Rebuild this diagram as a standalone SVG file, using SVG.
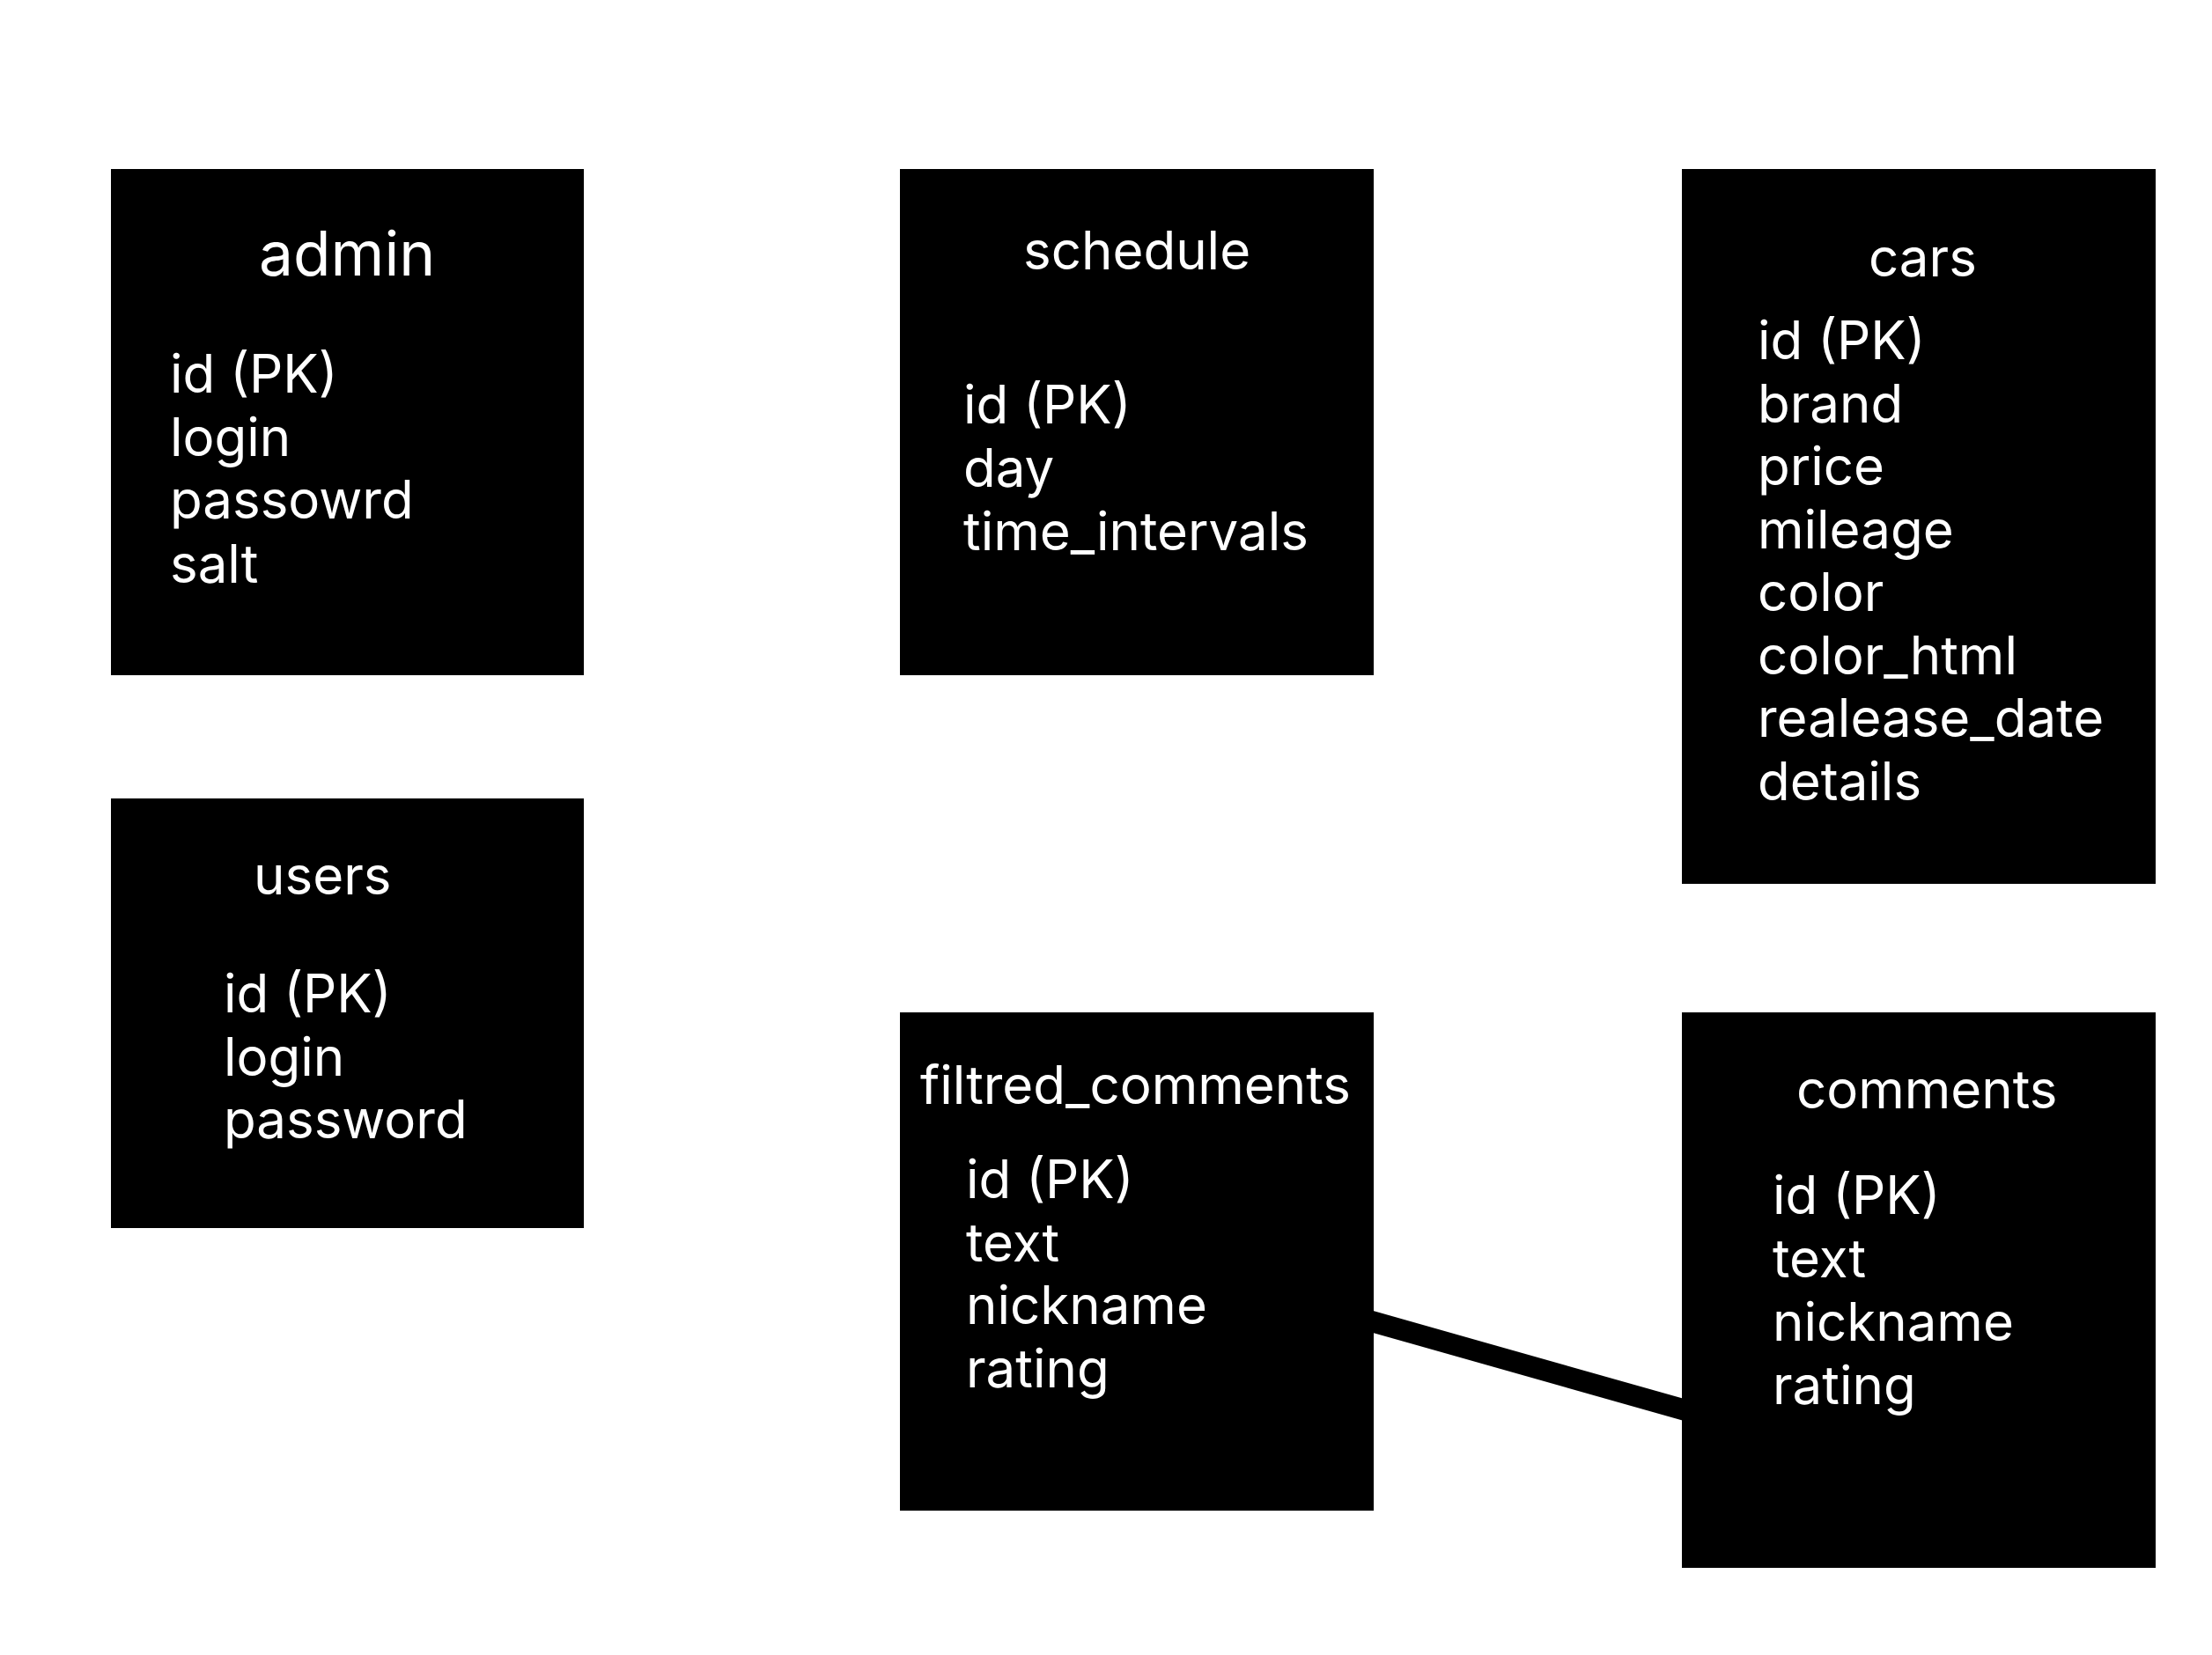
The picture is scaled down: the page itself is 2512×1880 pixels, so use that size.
<svg xmlns="http://www.w3.org/2000/svg" width="2512" height="1880" viewBox="0 0 2512 1880">
<style>
.box{fill:#000}
.t{fill:#fff;font-family:Inter,"Noto Sans","Liberation Sans",sans-serif;font-size:60px}
.big{font-size:69.5px}
.conn{stroke:#000;stroke-width:24;fill:none;stroke-linecap:butt}
</style>
<rect width="2512" height="1880" fill="#fff"/>
<g id="connectors">
<line class="conn" x1="1550" y1="1498.9" x2="1920" y2="1603.6"/>
</g>
<g id="admin">
<rect class="box" x="126" y="192" width="537" height="575"/>
<text class="t big" x="294" y="313">admin</text>
<text class="t" x="193" y="446">id (PK)</text>
<text class="t" x="193" y="517.5">login</text>
<text class="t" x="193" y="589">passowrd</text>
<text class="t" x="193" y="661.5">salt</text>
</g>
<g id="schedule">
<rect class="box" x="1022" y="192" width="538" height="575"/>
<text class="t" x="1162" y="306">schedule</text>
<text class="t" x="1094" y="481">id (PK)</text>
<text class="t" x="1094" y="553">day</text>
<text class="t" x="1094" y="625">time_intervals</text>
</g>
<g id="cars">
<rect class="box" x="1910" y="192" width="538" height="812"/>
<text class="t" x="2122" y="314">cars</text>
<text class="t" x="1996" y="408">id (PK)</text>
<text class="t" x="1996" y="479.5">brand</text>
<text class="t" x="1996" y="551">price</text>
<text class="t" x="1996" y="622.5">mileage</text>
<text class="t" x="1996" y="694">color</text>
<text class="t" x="1996" y="765.5">color_html</text>
<text class="t" x="1996" y="837">realease_date</text>
<text class="t" x="1996" y="908.5">details</text>
</g>
<g id="users">
<rect class="box" x="126" y="907" width="537" height="488"/>
<text class="t" x="288" y="1016">users</text>
<text class="t" x="254" y="1150">id (PK)</text>
<text class="t" x="254" y="1221.5">login</text>
<text class="t" x="254" y="1293">password</text>
</g>
<g id="filtred_comments">
<rect class="box" x="1022" y="1150" width="538" height="566"/>
<text class="t" x="1045" y="1254">filtred_comments</text>
<text class="t" x="1097" y="1361">id (PK)</text>
<text class="t" x="1097" y="1432.5">text</text>
<text class="t" x="1097" y="1504">nickname</text>
<text class="t" x="1097" y="1575.5">rating</text>
</g>
<g id="comments">
<rect class="box" x="1910" y="1150" width="538" height="631"/>
<text class="t" x="2040" y="1259">comments</text>
<text class="t" x="2013" y="1379">id (PK)</text>
<text class="t" x="2013" y="1451">text</text>
<text class="t" x="2013" y="1523">nickname</text>
<text class="t" x="2013" y="1595">rating</text>
</g>
</svg>
